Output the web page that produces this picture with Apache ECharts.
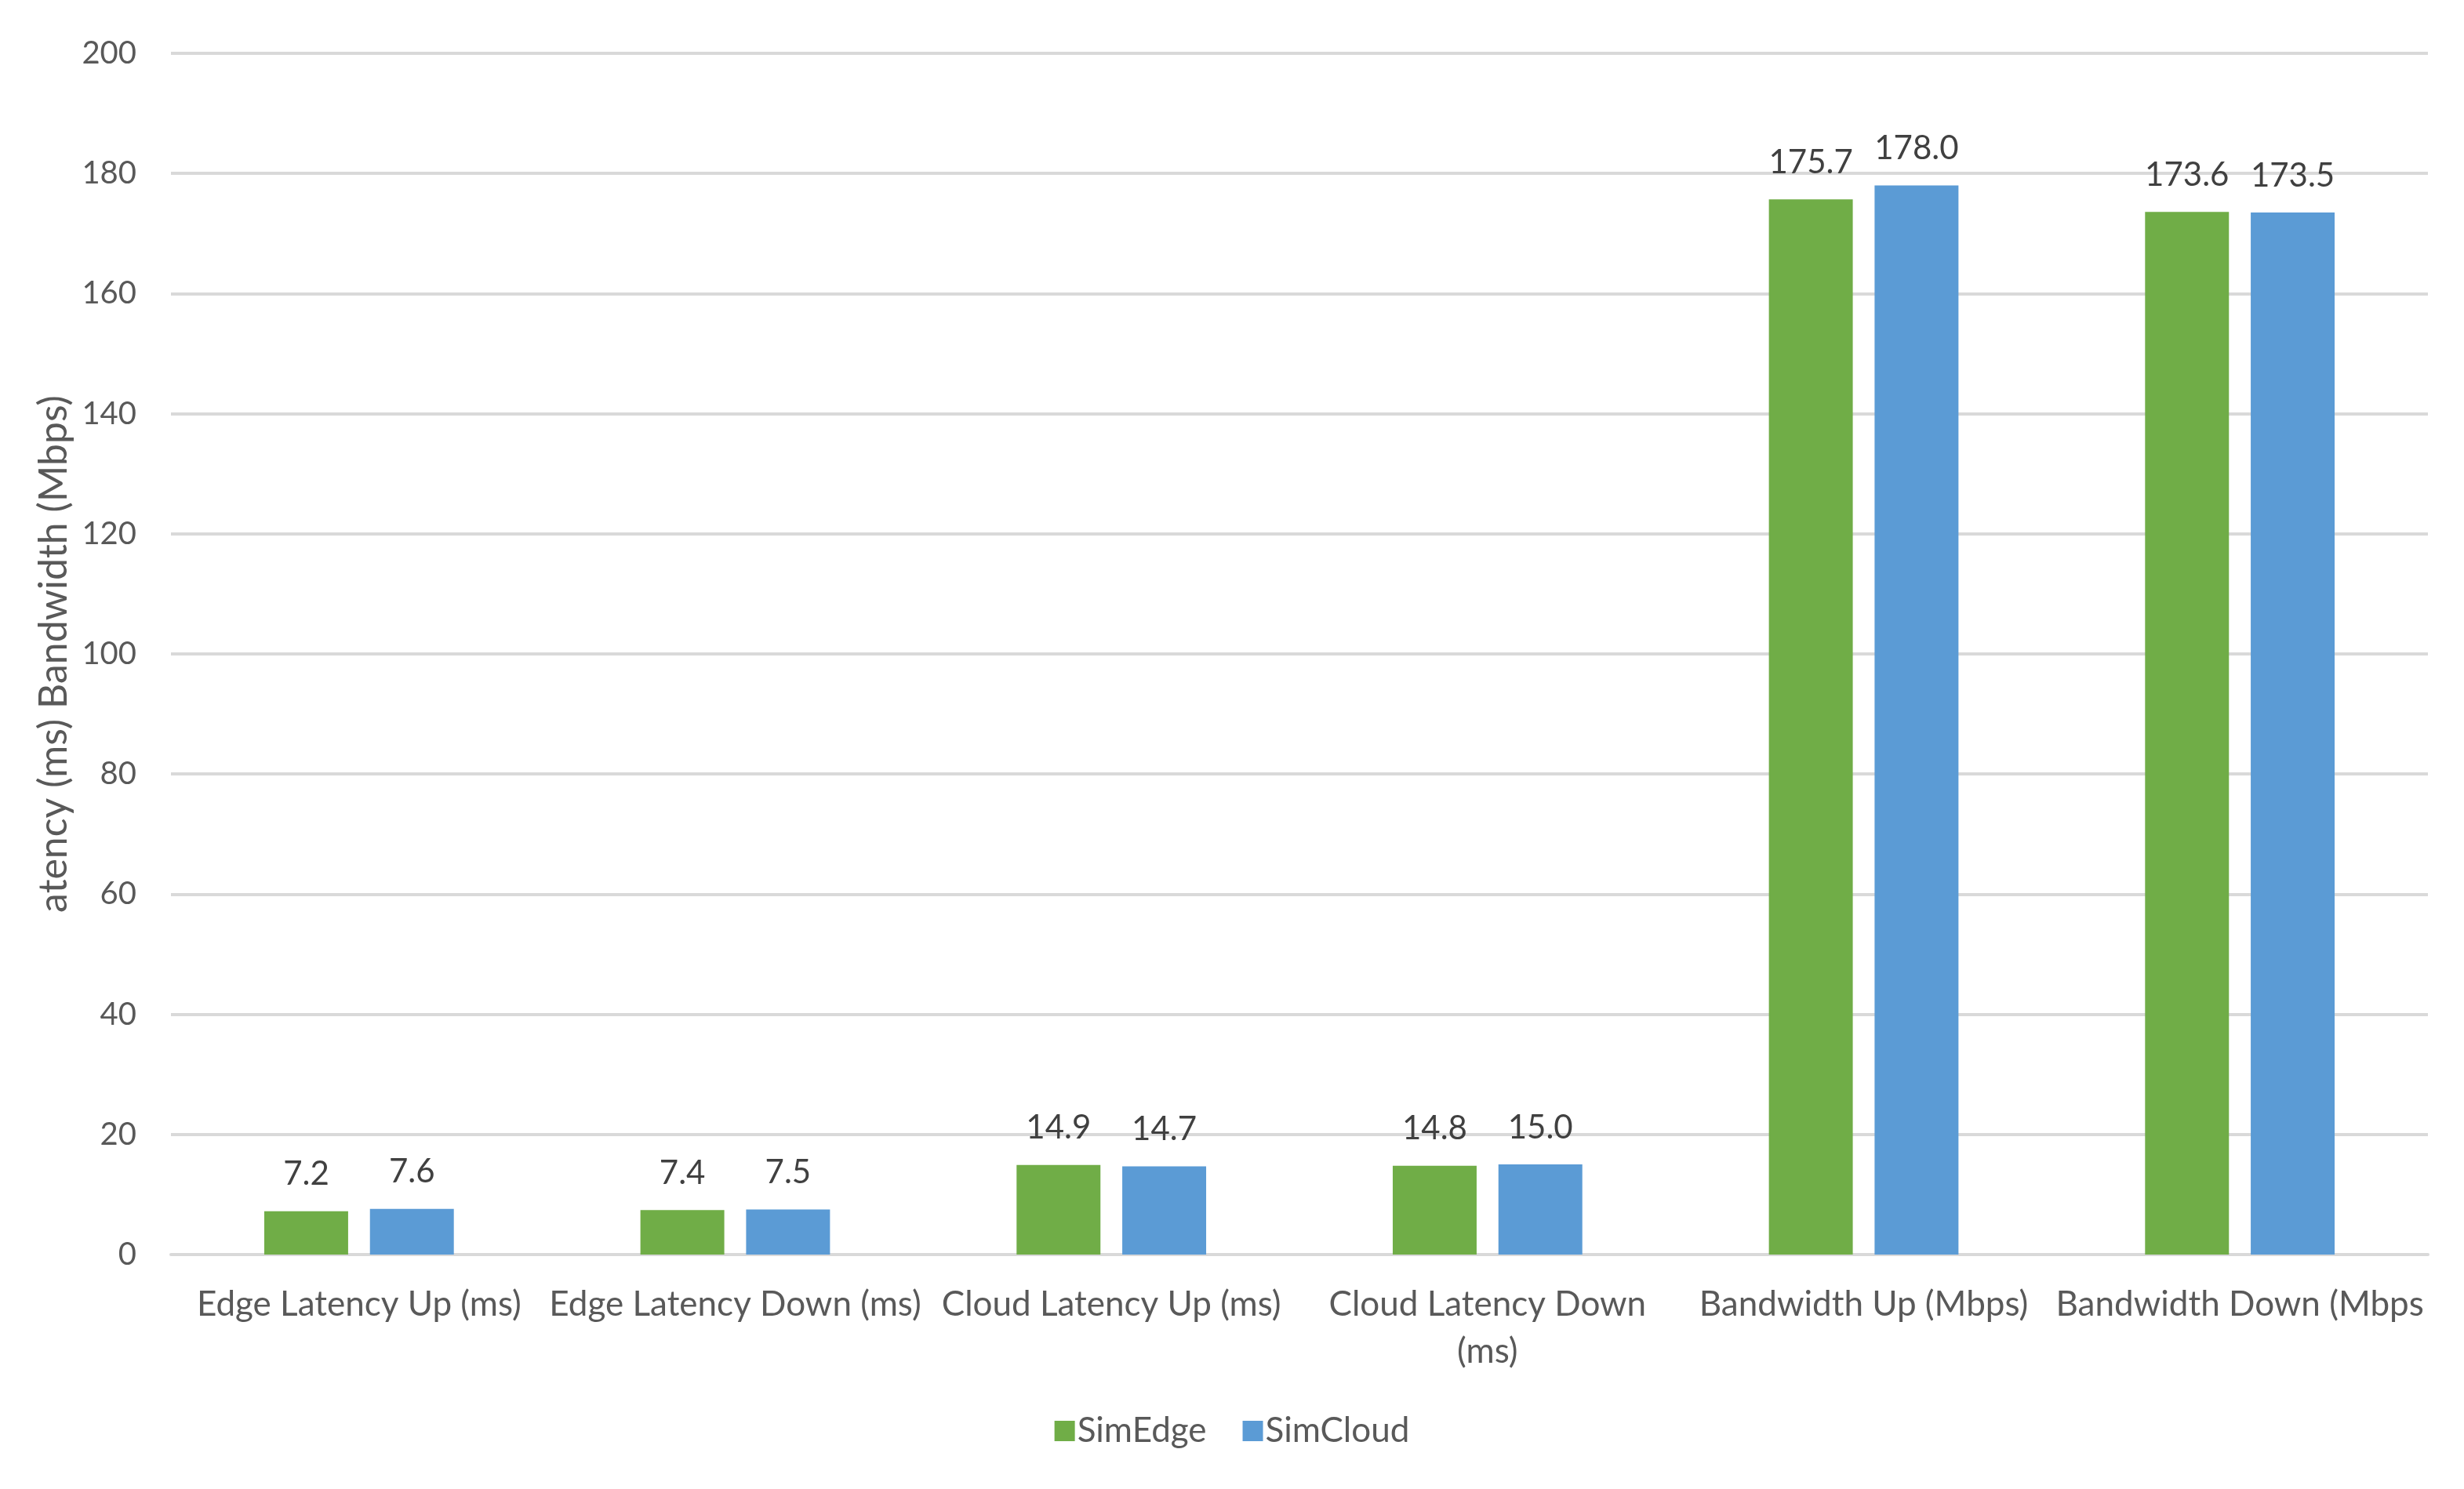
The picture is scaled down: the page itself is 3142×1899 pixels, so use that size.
<!DOCTYPE html>
<html>
<head>
<meta charset="utf-8">
<script src="https://cdn.jsdelivr.net/npm/echarts@6/dist/echarts.min.js"></script>
<style>
html,body{margin:0;padding:0;background:#fff;}
#chart{width:3142px;height:1899px;}
</style>
</head>
<body>
<div id="chart"></div>
<script>
var categories = [
  'Edge Latency Up (ms)',
  'Edge Latency Down (ms)',
  'Cloud Latency Up (ms)',
  'Cloud Latency Down\n(ms)',
  'Bandwidth Up (Mbps)',
  'Bandwidth Down (Mbps'
];
var simEdge = [7.2, 7.4, 14.9, 14.8, 175.7, 173.6];
var simCloud = [7.6, 7.5, 14.7, 15.0, 178.0, 173.5];
var yTicks = {min: 0, max: 200, interval: 20};
var yTitle = 'atency (ms) Bandwidth (Mbps)';

var FONT = 'Lato';
var chart = echarts.init(document.getElementById('chart'));
var labelCfg = {
  show: true,
  position: 'top',
  distance: 26,
  fontFamily: FONT,
  fontSize: 42,
  color: '#404040',
  formatter: function (p) { return p.value.toFixed(1); }
};
chart.setOption({
  backgroundColor: '#ffffff',
  animation: false,
  textStyle: {fontFamily: FONT},
  grid: {left: 218, right: 46, top: 68, bottom: 299, containLabel: false},
  legend: {
    left: 'center',
    top: 1798,
    itemWidth: 26,
    itemHeight: 26,
    itemGap: 46,
    icon: 'rect',
    textStyle: {fontFamily: FONT, fontSize: 44, color: '#595959', padding: [0, 0, 0, -2]},
    data: ['SimEdge', 'SimCloud']
  },
  xAxis: {
    type: 'category',
    data: categories,
    axisLine: {show: true, lineStyle: {color: '#D9D9D9', width: 4}},
    axisTick: {show: false},
    axisLabel: {
      interval: 0,
      margin: 34,
      fontFamily: FONT,
      fontSize: 44,
      lineHeight: 60,
      color: '#595959'
    }
  },
  yAxis: {
    type: 'value',
    min: yTicks.min,
    max: yTicks.max,
    interval: yTicks.interval,
    name: yTitle,
    nameLocation: 'middle',
    nameRotate: 90,
    nameGap: 124,
    nameTextStyle: {fontFamily: FONT, fontSize: 50, color: '#595959'},
    axisLine: {show: false},
    axisTick: {show: false},
    axisLabel: {margin: 44, fontFamily: FONT, fontSize: 40, color: '#595959'},
    splitLine: {show: true, lineStyle: {color: '#D9D9D9', width: 4}}
  },
  series: [
    {
      name: 'SimEdge',
      type: 'bar',
      data: simEdge,
      barWidth: '22.3%',
      barGap: '26%',
      itemStyle: {color: '#70AD47'},
      label: labelCfg
    },
    {
      name: 'SimCloud',
      type: 'bar',
      data: simCloud,
      barWidth: '22.3%',
      barGap: '26%',
      itemStyle: {color: '#5B9BD5'},
      label: labelCfg
    }
  ]
});
</script>
</body>
</html>
